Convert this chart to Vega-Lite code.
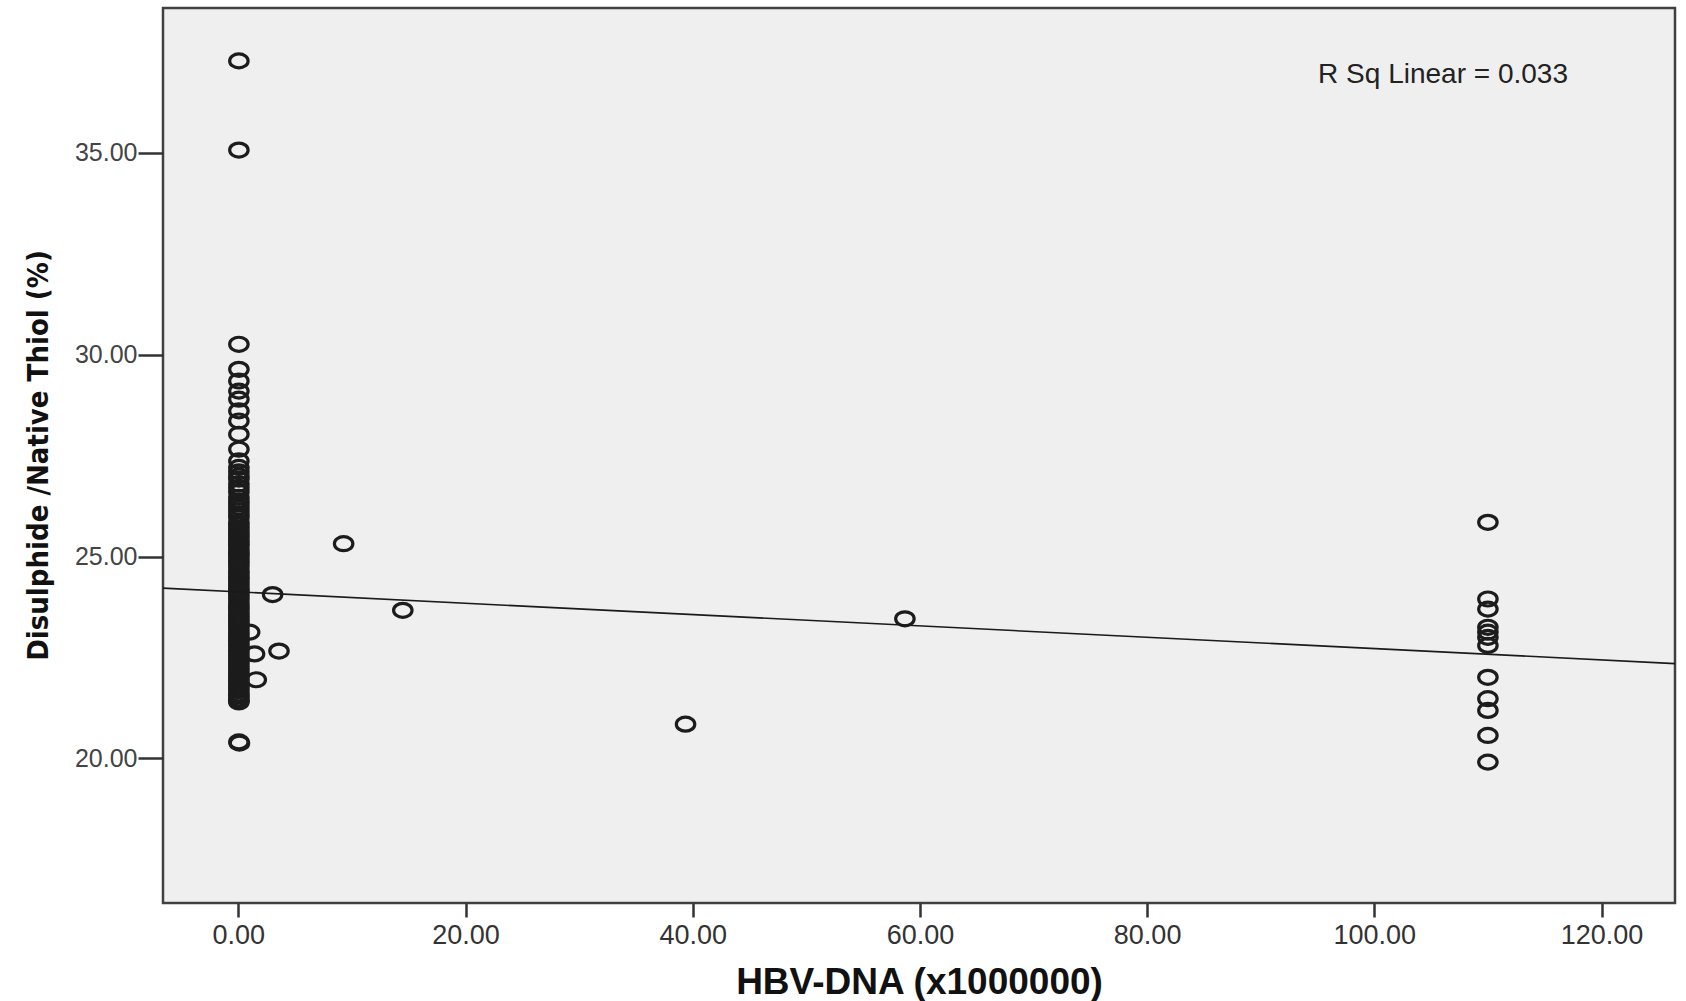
{
  "$schema": "https://vega.github.io/schema/vega-lite/v6.json",
  "width": 1512,
  "height": 895,
  "autosize": {"type": "none"},
  "padding": {"left": 163, "top": 8, "right": 11, "bottom": 98},
  "background": "white",
  "config": {
    "view": {"fill": "#efefef", "stroke": "#404040", "strokeWidth": 2.5},
    "axis": {"grid": false, "domain": false}
  },
  "datasets": {
    "points": [
      {"hbv": 0.05, "ratio": 37.28}, {"hbv": 0.05, "ratio": 35.07}, {"hbv": 0.05, "ratio": 30.26}, {"hbv": 0.05, "ratio": 29.64},
      {"hbv": 0.05, "ratio": 29.35}, {"hbv": 0.05, "ratio": 29.10}, {"hbv": 0.05, "ratio": 28.90}, {"hbv": 0.05, "ratio": 28.61},
      {"hbv": 0.05, "ratio": 28.36}, {"hbv": 0.05, "ratio": 28.03}, {"hbv": 0.05, "ratio": 27.66}, {"hbv": 0.05, "ratio": 27.37},
      {"hbv": 0.05, "ratio": 27.21}, {"hbv": 0.05, "ratio": 27.10}, {"hbv": 0.05, "ratio": 27.00}, {"hbv": 0.05, "ratio": 26.92},
      {"hbv": 0.05, "ratio": 26.80}, {"hbv": 0.05, "ratio": 26.70}, {"hbv": 0.05, "ratio": 26.60}, {"hbv": 0.05, "ratio": 26.47},
      {"hbv": 0.05, "ratio": 26.38}, {"hbv": 0.05, "ratio": 26.30}, {"hbv": 0.05, "ratio": 26.22}, {"hbv": 0.05, "ratio": 26.14},
      {"hbv": 0.05, "ratio": 26.05}, {"hbv": 0.05, "ratio": 25.97}, {"hbv": 0.05, "ratio": 25.85}, {"hbv": 0.05, "ratio": 25.78},
      {"hbv": 0.05, "ratio": 25.70}, {"hbv": 0.05, "ratio": 25.62}, {"hbv": 0.05, "ratio": 25.55}, {"hbv": 0.05, "ratio": 25.48},
      {"hbv": 0.05, "ratio": 25.40}, {"hbv": 0.05, "ratio": 25.33}, {"hbv": 0.05, "ratio": 25.27}, {"hbv": 0.05, "ratio": 25.18},
      {"hbv": 0.05, "ratio": 25.10}, {"hbv": 0.05, "ratio": 25.05}, {"hbv": 0.05, "ratio": 24.98}, {"hbv": 0.05, "ratio": 24.90},
      {"hbv": 0.05, "ratio": 24.83}, {"hbv": 0.05, "ratio": 24.75}, {"hbv": 0.05, "ratio": 24.65}, {"hbv": 0.05, "ratio": 24.58},
      {"hbv": 0.05, "ratio": 24.50}, {"hbv": 0.05, "ratio": 24.44}, {"hbv": 0.05, "ratio": 24.36}, {"hbv": 0.05, "ratio": 24.28},
      {"hbv": 0.05, "ratio": 24.20}, {"hbv": 0.05, "ratio": 24.15}, {"hbv": 0.05, "ratio": 24.08}, {"hbv": 0.05, "ratio": 24.00},
      {"hbv": 0.05, "ratio": 23.92}, {"hbv": 0.05, "ratio": 23.83}, {"hbv": 0.05, "ratio": 23.76}, {"hbv": 0.05, "ratio": 23.70},
      {"hbv": 0.05, "ratio": 23.62}, {"hbv": 0.05, "ratio": 23.55}, {"hbv": 0.05, "ratio": 23.48}, {"hbv": 0.05, "ratio": 23.42},
      {"hbv": 0.05, "ratio": 23.35}, {"hbv": 0.05, "ratio": 23.28}, {"hbv": 0.05, "ratio": 23.20}, {"hbv": 0.05, "ratio": 23.12},
      {"hbv": 0.05, "ratio": 23.05}, {"hbv": 0.05, "ratio": 22.98}, {"hbv": 0.05, "ratio": 22.92}, {"hbv": 0.05, "ratio": 22.85},
      {"hbv": 0.05, "ratio": 22.78}, {"hbv": 0.05, "ratio": 22.70}, {"hbv": 0.05, "ratio": 22.63}, {"hbv": 0.05, "ratio": 22.55},
      {"hbv": 0.05, "ratio": 22.48}, {"hbv": 0.05, "ratio": 22.40}, {"hbv": 0.05, "ratio": 22.33}, {"hbv": 0.05, "ratio": 22.25},
      {"hbv": 0.05, "ratio": 22.18}, {"hbv": 0.05, "ratio": 22.10}, {"hbv": 0.05, "ratio": 22.03}, {"hbv": 0.05, "ratio": 21.96},
      {"hbv": 0.05, "ratio": 21.90}, {"hbv": 0.05, "ratio": 21.82}, {"hbv": 0.05, "ratio": 21.75}, {"hbv": 0.05, "ratio": 21.68},
      {"hbv": 0.05, "ratio": 21.60}, {"hbv": 0.05, "ratio": 21.55}, {"hbv": 0.05, "ratio": 21.48}, {"hbv": 0.05, "ratio": 21.43},
      {"hbv": 0.05, "ratio": 21.40}, {"hbv": 0.05, "ratio": 20.41}, {"hbv": 0.1, "ratio": 20.38},
      {"hbv": 1.0, "ratio": 23.13}, {"hbv": 1.43, "ratio": 22.59}, {"hbv": 1.58, "ratio": 21.95}, {"hbv": 3.02, "ratio": 24.06},
      {"hbv": 3.58, "ratio": 22.66}, {"hbv": 9.27, "ratio": 25.32}, {"hbv": 14.48, "ratio": 23.67}, {"hbv": 39.37, "ratio": 20.85},
      {"hbv": 58.68, "ratio": 23.46},
      {"hbv": 110, "ratio": 25.85}, {"hbv": 110, "ratio": 23.95}, {"hbv": 110, "ratio": 23.70}, {"hbv": 110, "ratio": 23.25},
      {"hbv": 110, "ratio": 23.13}, {"hbv": 110, "ratio": 23.00}, {"hbv": 110, "ratio": 22.80}, {"hbv": 110, "ratio": 22.01},
      {"hbv": 110, "ratio": 21.48}, {"hbv": 110, "ratio": 21.19}, {"hbv": 110, "ratio": 20.57}, {"hbv": 110, "ratio": 19.91}
    ],
    "fit": [
      {"hbv": -6.63, "ratio": 24.22},
      {"hbv": 126.47, "ratio": 22.35}
    ],
    "note": [
      {"hbv": 106.05, "ratio": 36.93, "label": "R Sq Linear = 0.033"}
    ]
  },
  "layer": [
    {
      "data": {"name": "points"},
      "mark": {
        "type": "point",
        "shape": "M-1,0A1,0.76,0,1,1,1,0A1,0.76,0,1,1,-1,0Z",
        "size": 340,
        "filled": false,
        "stroke": "#1c1c1c",
        "strokeWidth": 3.2,
        "opacity": 1,
        "clip": true
      },
      "encoding": {
        "x": {
          "field": "hbv",
          "type": "quantitative",
          "scale": {"domain": [-6.63, 126.47], "nice": false, "zero": false},
          "axis": {
            "values": [0, 20, 40, 60, 80, 100, 120],
            "format": ".2f",
            "title": "HBV-DNA (x1000000)",
            "labelFont": "Liberation Sans",
            "labelFontSize": 27,
            "labelColor": "#333333",
            "labelPadding": 5,
            "tickSize": 14,
            "tickWidth": 2.5,
            "tickColor": "#333333",
            "titleFont": "Liberation Sans",
            "titleFontSize": 37,
            "titleFontWeight": "bold",
            "titleColor": "#111111",
            "titleX": 756,
            "titleY": 79,
            "titleBaseline": "middle",
            "titleAlign": "center"
          }
        },
        "y": {
          "field": "ratio",
          "type": "quantitative",
          "scale": {"domain": [16.42, 38.59], "nice": false, "zero": false},
          "axis": {
            "values": [20, 25, 30, 35],
            "format": ".2f",
            "title": "Disulphide /Native Thiol (%)",
            "labelFont": "Liberation Sans",
            "labelFontSize": 25,
            "labelColor": "#444444",
            "labelPadding": 1,
            "tickSize": 25,
            "tickWidth": 2.5,
            "tickColor": "#333333",
            "titleFont": "DejaVu Sans Condensed, Liberation Sans Narrow, sans-serif",
            "titleFontSize": 29,
            "titleFontWeight": "bold",
            "titleColor": "#111111",
            "titleAngle": -90,
            "titleX": -125,
            "titleY": 447,
            "titleBaseline": "middle",
            "titleAlign": "center"
          }
        }
      }
    },
    {
      "data": {"name": "fit"},
      "mark": {"type": "line", "color": "#1a1a1a", "strokeWidth": 1.6, "clip": true},
      "encoding": {
        "x": {"field": "hbv", "type": "quantitative"},
        "y": {"field": "ratio", "type": "quantitative"}
      }
    },
    {
      "data": {"name": "note"},
      "mark": {"type": "text", "font": "Liberation Sans", "fontSize": 28, "color": "#222222", "align": "center", "baseline": "middle"},
      "encoding": {
        "x": {"field": "hbv", "type": "quantitative"},
        "y": {"field": "ratio", "type": "quantitative"},
        "text": {"field": "label", "type": "nominal"}
      }
    }
  ]
}
